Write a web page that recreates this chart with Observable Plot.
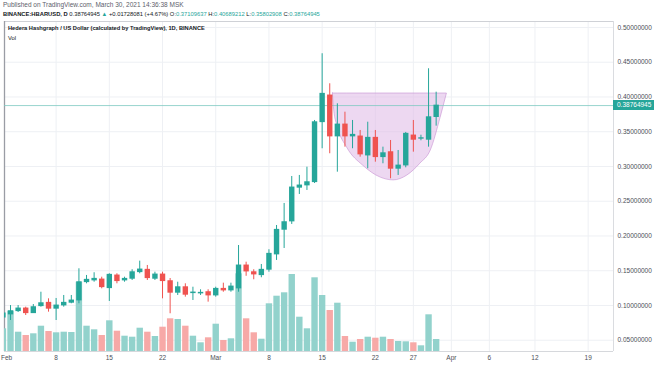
<!DOCTYPE html>
<html><head><meta charset="utf-8">
<script src="https://cdn.jsdelivr.net/npm/d3@7"></script>
<script src="https://cdn.jsdelivr.net/npm/@observablehq/plot@0.6"></script>
<style>
body{margin:0;background:#fff;}
#wrap{position:relative;width:654px;height:366px;overflow:hidden;font-family:"Liberation Sans",Arial,sans-serif;background:#fff;}
#wrap svg{position:absolute;left:0;top:0;}
.txt{position:absolute;white-space:nowrap;z-index:5;}
.up{color:#26a69a;}
#lastLbl{position:absolute;left:613px;width:41px;height:10px;line-height:10px;background:#26a69a;color:#fff;font-size:6.5px;z-index:6;padding-left:4px;box-sizing:border-box;}
</style></head><body>
<div id="wrap">
  <div class="txt" style="left:3px;top:1px;font-size:6.5px;color:#5d606b;">Published on TradingView.com, March 30, 2021 14:36:38 MSK</div>
  <div class="txt" style="left:3px;top:11px;font-size:5.8px;color:#131722;"><b style="font-weight:600">BINANCE:HBARUSD, D</b> 0.38764945 <span class="up">▲</span> +0.01728081 (+4.67%) O:<span class="up">0.37109637</span> H:<span class="up">0.40689212</span> L:<span class="up">0.35802908</span> C:<span class="up">0.38764945</span></div>
  <div class="txt" style="left:8px;top:25px;font-size:5.7px;color:#131722;font-weight:600;">Hedera Hashgraph / US Dollar (calculated by TradingView), 1D, BINANCE</div>
  <div class="txt" style="left:8px;top:35px;font-size:5.8px;color:#131722;">Vol</div>
  <div id="lastLbl"></div>
</div>
<script>
// ---- data ----
const startDate = "2021-02-01";
const opens  = [0.0827,0.0871,0.0918,0.0957,0.0889,0.0990,0.1039,0.0953,0.1000,0.1039,0.1072,0.1335,0.1360,0.1374,0.1249,0.1432,0.1360,0.1384,0.1479,0.1514,0.1384,0.1446,0.1350,0.1183,0.1263,0.1177,0.1173,0.1192,0.1144,0.1240,0.1216,0.1245,0.1576,0.1479,0.1436,0.1514,0.1734,0.2089,0.2209,0.2694,0.2727,0.2774,0.3637,0.4022,0.3432,0.3604,0.3432,0.3432,0.3158,0.3413,0.3134,0.3206,0.2967,0.3014,0.3446,0.3399,0.3384,0.37109637];
const highs  = [0.0928,0.0999,0.0999,0.0976,0.1014,0.1191,0.1096,0.1101,0.1144,0.1144,0.1528,0.1432,0.1471,0.1407,0.1456,0.1456,0.1407,0.1514,0.1638,0.1576,0.1479,0.1479,0.1388,0.1335,0.1312,0.1263,0.1226,0.1226,0.1263,0.1321,0.1321,0.1863,0.1623,0.1514,0.1590,0.1802,0.2151,0.2468,0.2856,0.2871,0.2990,0.3662,0.4622,0.4190,0.3902,0.3781,0.3662,0.3518,0.3637,0.3518,0.3278,0.3374,0.3230,0.3490,0.3662,0.3450,0.4406,0.40689212];
const lows   = [0.0784,0.0784,0.0899,0.0856,0.0885,0.0976,0.0904,0.0784,0.0976,0.1025,0.1025,0.1312,0.1335,0.1240,0.1058,0.1312,0.1335,0.1360,0.1456,0.1360,0.1360,0.1096,0.0881,0.1144,0.1120,0.1072,0.1144,0.1048,0.1120,0.1191,0.1191,0.1191,0.1420,0.1370,0.1399,0.1479,0.1648,0.1820,0.2166,0.2597,0.2655,0.2755,0.3255,0.3183,0.2918,0.3278,0.3255,0.3134,0.2967,0.3062,0.3039,0.2823,0.2871,0.2981,0.3206,0.3370,0.3278,0.35802908];
const closes = [0.0885,0.0918,0.0957,0.0889,0.0976,0.1033,0.0953,0.1000,0.1039,0.1072,0.1335,0.1370,0.1384,0.1263,0.1442,0.1350,0.1384,0.1479,0.1518,0.1393,0.1446,0.1350,0.1183,0.1263,0.1154,0.1187,0.1183,0.1144,0.1240,0.1216,0.1273,0.1576,0.1489,0.1446,0.1514,0.1744,0.2089,0.2199,0.2698,0.2727,0.2774,0.3637,0.4046,0.3432,0.3604,0.3432,0.3456,0.3173,0.3413,0.3134,0.3191,0.2967,0.3014,0.3471,0.3384,0.3407,0.3709,0.38764945];
const volumes = [227,403,193,160,177,253,200,187,193,190,693,253,217,160,307,203,153,143,233,193,150,243,327,320,253,153,87,137,273,110,127,777,327,187,123,477,553,587,770,343,227,737,560,410,483,150,93,120,143,133,143,120,100,97,87,57,367,120];

const priceTicks = [0.05,0.10,0.15,0.20,0.25,0.30,0.35,0.40,0.45,0.50];
const tickDates  = ["2021-02-01","2021-02-08","2021-02-15","2021-02-22","2021-03-01","2021-03-08","2021-03-15","2021-03-22","2021-03-27","2021-04-01","2021-04-06","2021-04-12","2021-04-19"];
const tickLabels = ["Feb","8","15","22","Mar","8","15","22","27","Apr","6","12","19"];

// cup annotation outline (time, lower edge price) and its flat top
const cupTimes = ["2021-03-16T10:00Z","2021-03-16T14:00Z","2021-03-17T02:00Z","2021-03-18T07:00Z","2021-03-20T10:00Z","2021-03-22T17:00Z","2021-03-24T10:00Z","2021-03-26T05:00Z","2021-03-27T22:00Z","2021-03-29T07:00Z","2021-03-30T14:00Z","2021-03-31T10:00Z"];
const cupLow   = [0.405,0.381,0.356,0.327,0.301,0.284,0.280,0.287,0.304,0.323,0.370,0.405];
const cupTop   = 0.405;

// ---- build ----
const UP = "#26a69a", DOWN = "#ef5350";
const UPV = "#92d2cc", DOWNV = "#f7a9a7";
const start = new Date(startDate + "T00:00Z");
const dates = d3.utcDay.range(start, d3.utcDay.offset(start, opens.length));
const candles = dates.map((date, i) => ({date, open: opens[i], high: highs[i], low: lows[i], close: closes[i], volume: volumes[i], up: closes[i] >= opens[i]}));
const ticks = tickDates.map(s => new Date(s + "T00:00Z"));
const tickRows = ticks.map((d, i) => ({date: d, label: tickLabels[i]}));
const cup = cupTimes.map((t, i) => ({date: new Date(t), low: cupLow[i], top: cupTop}));
const last = candles[candles.length - 1];

const W = 654, H = 366, MT = 21, MB = 15, ML = 4, MR = 41;
const xDomain = [new Date("2021-02-01T05:00Z"), new Date("2021-04-22T08:00Z")];
const yDomain = [0.0338, 0.5086];
const FONT = "'Liberation Sans', Arial, sans-serif";
const style = {fontSize: "6.5px", fontFamily: FONT, color: "#4c4f57", background: "transparent", overflow: "visible"};
const common = {width: W, height: H, marginTop: MT, marginBottom: MB, marginLeft: ML, marginRight: MR, style};

// layer 1: grid, frame, axes
const base = Plot.plot({
  ...common,
  x: {type: "utc", domain: xDomain, axis: null},
  y: {domain: yDomain, ticks: priceTicks, tickFormat: d => d.toFixed(8), axis: "right", tickSize: 0, tickPadding: 4, label: null},
  marks: [
    Plot.ruleY(priceTicks, {stroke: "#eef0f4"}),
    Plot.ruleX(ticks.slice(1), {stroke: "#eef0f4"}),
    Plot.ruleY([yDomain[1]], {stroke: "#cfd1d6"}),
    Plot.ruleY([yDomain[0]], {stroke: "#d6d8dc"}),
    Plot.ruleX([xDomain[1]], {stroke: "#dadce0"}),
    Plot.ruleX([xDomain[0]], {stroke: "#9a9da5", strokeWidth: 1.3}),
    Plot.text(tickRows.slice(0, 1), {x: "date", text: "label", frameAnchor: "bottom", dy: 8, dx: -2, textAnchor: "start", fill: "#4c4f57"}),
    Plot.text(tickRows.slice(1), {x: "date", text: "label", frameAnchor: "bottom", dy: 8, fill: "#4c4f57"})
  ]
});

// layer 2: volume
const vol = Plot.plot({
  ...common,
  x: {type: "utc", domain: xDomain, axis: null},
  y: {domain: [0, 3300], axis: null},
  marks: [
    Plot.ruleX(candles, {x: "date", y1: 0, y2: "volume", stroke: d => d.up ? UPV : DOWNV, strokeWidth: 6.4, clip: true})
  ]
});

// layer 3: cup, price line, candles
const price = Plot.plot({
  ...common,
  x: {type: "utc", domain: xDomain, axis: null},
  y: {domain: yDomain, axis: null},
  marks: [
    Plot.areaY(cup, {x: "date", y1: "top", y2: "low", curve: "monotone-x", fill: "#e1bee7", fillOpacity: 0.6, stroke: "#c78fd2", strokeOpacity: 0.6, strokeWidth: 1}),
    Plot.ruleY([last.close], {stroke: "#7fcac2", strokeOpacity: 0.8}),
    Plot.ruleX(candles, {x: "date", y1: "low", y2: "high", stroke: d => d.up ? UP : DOWN, strokeWidth: 1, clip: true}),
    Plot.ruleX(candles, {x: "date", y1: d => Math.min(d.open, d.close) - 0.0006, y2: d => Math.max(d.open, d.close) + 0.0006, stroke: d => d.up ? UP : DOWN, strokeWidth: 5.4, clip: true})
  ]
});

const wrap = document.getElementById("wrap");
wrap.appendChild(base);
wrap.appendChild(vol);
wrap.appendChild(price);

// last-price label on the right axis, positioned through Plot's y scale
const yy = price.scale("y").apply(last.close);
const lbl = document.getElementById("lastLbl");
lbl.style.top = (yy - 5) + "px";
lbl.textContent = last.close.toFixed(8);
</script>
</body></html>
